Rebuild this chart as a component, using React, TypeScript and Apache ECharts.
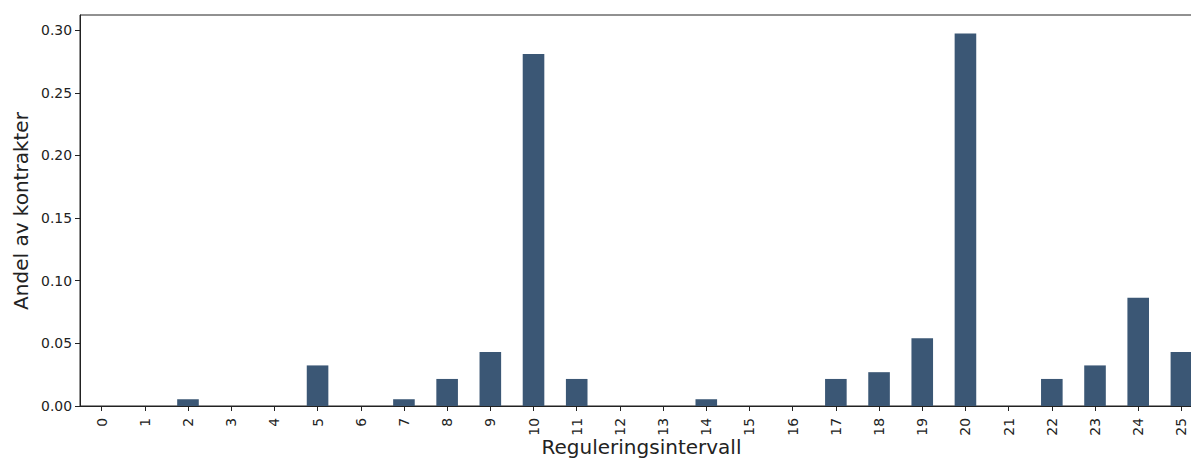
import React, { useEffect, useRef } from "react";
import * as echarts from "echarts";

const categories = ["0","1","2","3","4","5","6","7","8","9","10","11","12","13","14","15","16","17","18","19","20","21","22","23","24","25"];
const shares = [0, 0, 0.0054, 0, 0, 0.0324, 0, 0.0054, 0.0216, 0.0432, 0.2811, 0.0216, 0, 0, 0.0054, 0, 0, 0.0216, 0.027, 0.0541, 0.2973, 0, 0.0216, 0.0324, 0.0865, 0.0432];
const yTicks = [0, 0.05, 0.1, 0.15, 0.2, 0.25, 0.3];
const yTitle = "Andel av kontrakter";
const xTitle = "Reguleringsintervall";

const FONT = "'DejaVu Sans', sans-serif";
const INK = "#222222";

export default function App() {
  const ref = useRef<HTMLDivElement>(null);
  useEffect(() => {
    document.body.style.margin = "0";
    const chart = echarts.init(ref.current!, undefined, { renderer: "svg" });
    const yMax = Math.max(...shares) * 1.05;
    chart.setOption({
      animation: false,
      backgroundColor: "#ffffff",
      grid: {
        left: 80,
        top: 15,
        width: 1123,
        height: 391,
        outerBoundsMode: "none",
        containLabel: false,
        show: true,
        borderColor: INK,
        borderWidth: 1,
        backgroundColor: "transparent",
      },
      xAxis: {
        type: "category",
        data: categories,
        boundaryGap: true,
        axisLine: { show: true, lineStyle: { color: INK, width: 1 } },
        axisTick: { show: true, alignWithLabel: true, interval: 0, length: 5, lineStyle: { color: INK } },
        axisLabel: { interval: 0, rotate: 90, margin: 12, fontSize: 13.9, fontFamily: FONT, color: INK },
        splitLine: { show: false },
      },
      yAxis: {
        type: "value",
        min: 0,
        max: yMax,
        interval: 0.05,
        axisLine: { show: true, lineStyle: { color: INK, width: 1 } },
        axisTick: { show: true, length: 5, lineStyle: { color: INK }, customValues: yTicks },
        axisLabel: {
          fontSize: 13.9,
          fontFamily: FONT,
          color: INK,
          margin: 8,
          customValues: yTicks,
          formatter: (v: number) => v.toFixed(2),
        },
        splitLine: { show: false },
      },
      series: [
        {
          type: "bar",
          data: shares,
          barWidth: "50%",
          itemStyle: { color: "#3b5775" },
        },
      ],
      graphic: [
        {
          type: "text",
          x: 21,
          y: 211,
          rotation: Math.PI / 2,
          style: {
            text: yTitle,
            fontSize: 20,
            fontFamily: FONT,
            fill: INK,
            align: "center",
            verticalAlign: "middle",
          },
        },
        {
          type: "text",
          x: 641.5,
          y: 437,
          style: {
            text: xTitle,
            fontSize: 20,
            fontFamily: FONT,
            fill: INK,
            align: "center",
            verticalAlign: "top",
          },
        },
      ],
    });
    return () => chart.dispose();
  }, []);
  return <div ref={ref} style={{ width: 1191, height: 458 }} />;
}
